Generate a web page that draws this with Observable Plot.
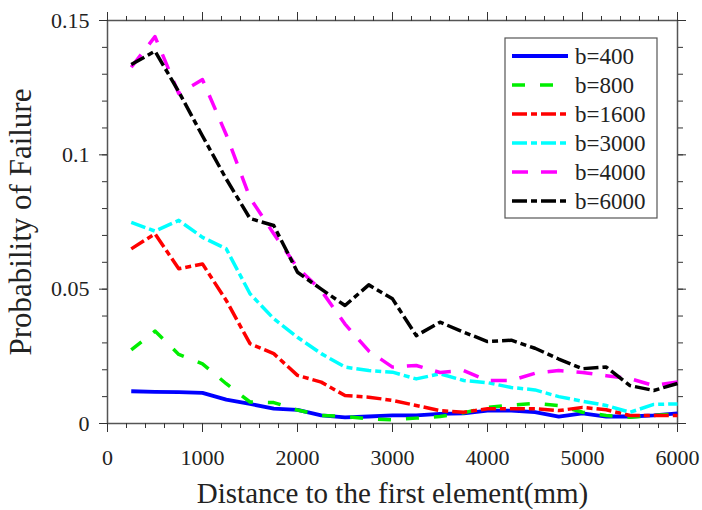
<!DOCTYPE html>
<html><head><meta charset="utf-8">
<script src="https://cdn.jsdelivr.net/npm/d3@7"></script>
<script src="https://cdn.jsdelivr.net/npm/@observablehq/plot@0.6"></script>
<style>
body{margin:0;background:#fff}
#chart svg{background:#fff;overflow:visible}
</style>
</head><body><div id="chart"></div>
<script>
// ---- data ----
const distance = [250,500,750,1000,1250,1500,1750,2000,2250,2500,2750,3000,3250,3500,3750,4000,4250,4500,4750,5000,5250,5500,5750,6000];
const seriesNames = ["b=400","b=800","b=1600","b=3000","b=4000","b=6000"];
const b400  = [0.0120,0.0118,0.0117,0.0114,0.0089,0.0073,0.0055,0.0051,0.0030,0.0023,0.0026,0.0030,0.0030,0.0036,0.0038,0.0048,0.0048,0.0042,0.0026,0.0038,0.0026,0.0026,0.0030,0.0038];
const b800  = [0.0274,0.0344,0.0257,0.0222,0.0148,0.0080,0.0078,0.0050,0.0030,0.0026,0.0017,0.0014,0.0020,0.0026,0.0040,0.0060,0.0068,0.0075,0.0067,0.0042,0.0030,0.0023,0.0030,0.0036];
const b1600 = [0.0650,0.0706,0.0576,0.0594,0.0458,0.0297,0.0260,0.0179,0.0154,0.0104,0.0098,0.0086,0.0067,0.0048,0.0042,0.0055,0.0055,0.0055,0.0048,0.0060,0.0051,0.0030,0.0030,0.0030];
const b3000 = [0.0749,0.0716,0.0756,0.0693,0.0650,0.0483,0.0390,0.0321,0.0260,0.0210,0.0197,0.0191,0.0166,0.0185,0.0160,0.0152,0.0134,0.0125,0.0100,0.0083,0.0067,0.0042,0.0071,0.0073];
const b4000 = [0.1326,0.1440,0.1228,0.1280,0.1075,0.0840,0.0706,0.0580,0.0495,0.0370,0.0270,0.0210,0.0216,0.0190,0.0197,0.0160,0.0160,0.0187,0.0197,0.0190,0.0178,0.0167,0.0141,0.0155];
const b6000 = [0.1336,0.1386,0.1235,0.1070,0.0910,0.0763,0.0737,0.0563,0.0500,0.0439,0.0516,0.0464,0.0327,0.0377,0.0340,0.0305,0.0310,0.0280,0.0240,0.0204,0.0210,0.0141,0.0123,0.0149];
const seriesValues = [b400,b800,b1600,b3000,b4000,b6000];
const xTickValues = [0,1000,2000,3000,4000,5000,6000];
const yTickValues = [0,0.05,0.1,0.15];
const xTitle = "Distance to the first element(mm)";
const yTitle = "Probability of Failure";

// ---- styles ----
const styles = [
  {stroke:"#0000ff", dash:null,           width:3.8},
  {stroke:"#00ee00", dash:"13,15",        width:3.5},
  {stroke:"#ff0000", dash:"15,4,6,4",     width:3.5},
  {stroke:"#00ffff", dash:"15,4,6,4",     width:3.5},
  {stroke:"#ff00ff", dash:"16,13",        width:3.5},
  {stroke:"#000000", dash:"15,4,6,4",     width:3.5}
];

const table = seriesNames.flatMap((name,i)=>distance.map((d,j)=>({series:name, x:d, y:seriesValues[i][j]})));

const xMinor = d3.range(0,6001,200);
const yMinor = d3.range(0,16).map(i=>i/100);
const tickColor = "#333";
const fontFamily = "Liberation Serif, Times New Roman, serif";

const marks = [
  Plot.frame({stroke:"#555", strokeWidth:1.5}),
  Plot.axisX(xMinor,{anchor:"bottom",tickSize:5,text:null,label:null,stroke:tickColor}),
  Plot.axisX(xTickValues,{anchor:"bottom",tickSize:9,tickPadding:17,fontSize:22,fontFamily,label:null,stroke:tickColor,fill:"#222",tickFormat:d3.format("d")}),
  Plot.axisX(xMinor,{anchor:"top",tickSize:5,text:null,label:null,stroke:tickColor}),
  Plot.axisX(xTickValues,{anchor:"top",tickSize:9,text:null,label:null,stroke:tickColor}),
  Plot.axisY(yMinor,{anchor:"left",tickSize:5,text:null,label:null,stroke:tickColor}),
  Plot.axisY(yTickValues,{anchor:"left",tickSize:8,tickPadding:10,fontSize:22,fontFamily,label:null,stroke:tickColor,fill:"#222",tickFormat:d3.format("")}),
  Plot.axisY(yMinor,{anchor:"right",tickSize:5,text:null,label:null,stroke:tickColor}),
  Plot.axisY(yTickValues,{anchor:"right",tickSize:8,text:null,label:null,stroke:tickColor}),
  Plot.text([xTitle],{frameAnchor:"bottom",dy:70,lineAnchor:"middle",textAnchor:"middle",fontSize:29,fill:"#222",fontFamily}),
  Plot.text([yTitle],{frameAnchor:"left",dx:-86,rotate:-90,lineAnchor:"middle",textAnchor:"middle",fontSize:31,fill:"#222",fontFamily})
];
seriesNames.forEach((name,i)=>{
  marks.push(Plot.line(table.filter(d=>d.series===name),{
    x:"x", y:"y", stroke:styles[i].stroke, strokeWidth:styles[i].width,
    strokeDasharray:styles[i].dash, strokeLinejoin:"round", strokeLinecap:"butt"
  }));
});

const chart = Plot.plot({
  width:702, height:510,
  marginLeft:107, marginRight:25, marginTop:20, marginBottom:87,
  style:"background:#fff;",
  x:{domain:[0,6000]},
  y:{domain:[0,0.15]},
  marks
});
document.getElementById("chart").appendChild(chart);

// ---- legend (inside the plot area, upper right) ----
const svg = d3.select(chart);
svg.attr("font-family", fontFamily);
const lg = svg.append("g").attr("text-anchor","start");
lg.append("rect").attr("x",505).attr("y",38).attr("width",152).attr("height",180)
  .attr("fill","#fff").attr("stroke","#555").attr("stroke-width",1.2);
seriesNames.forEach((name,i)=>{
  const y = 56 + i*29;
  lg.append("line").attr("x1",512).attr("x2",568).attr("y1",y).attr("y2",y)
    .attr("stroke",styles[i].stroke).attr("stroke-width",styles[i].width)
    .attr("stroke-dasharray",styles[i].dash);
  lg.append("text").attr("x",575).attr("y",y+7.5).attr("font-size",23)
    .attr("fill","#222").text(name);
});
svg.selectAll("text").style("font-family", fontFamily);
</script>
</body></html>
